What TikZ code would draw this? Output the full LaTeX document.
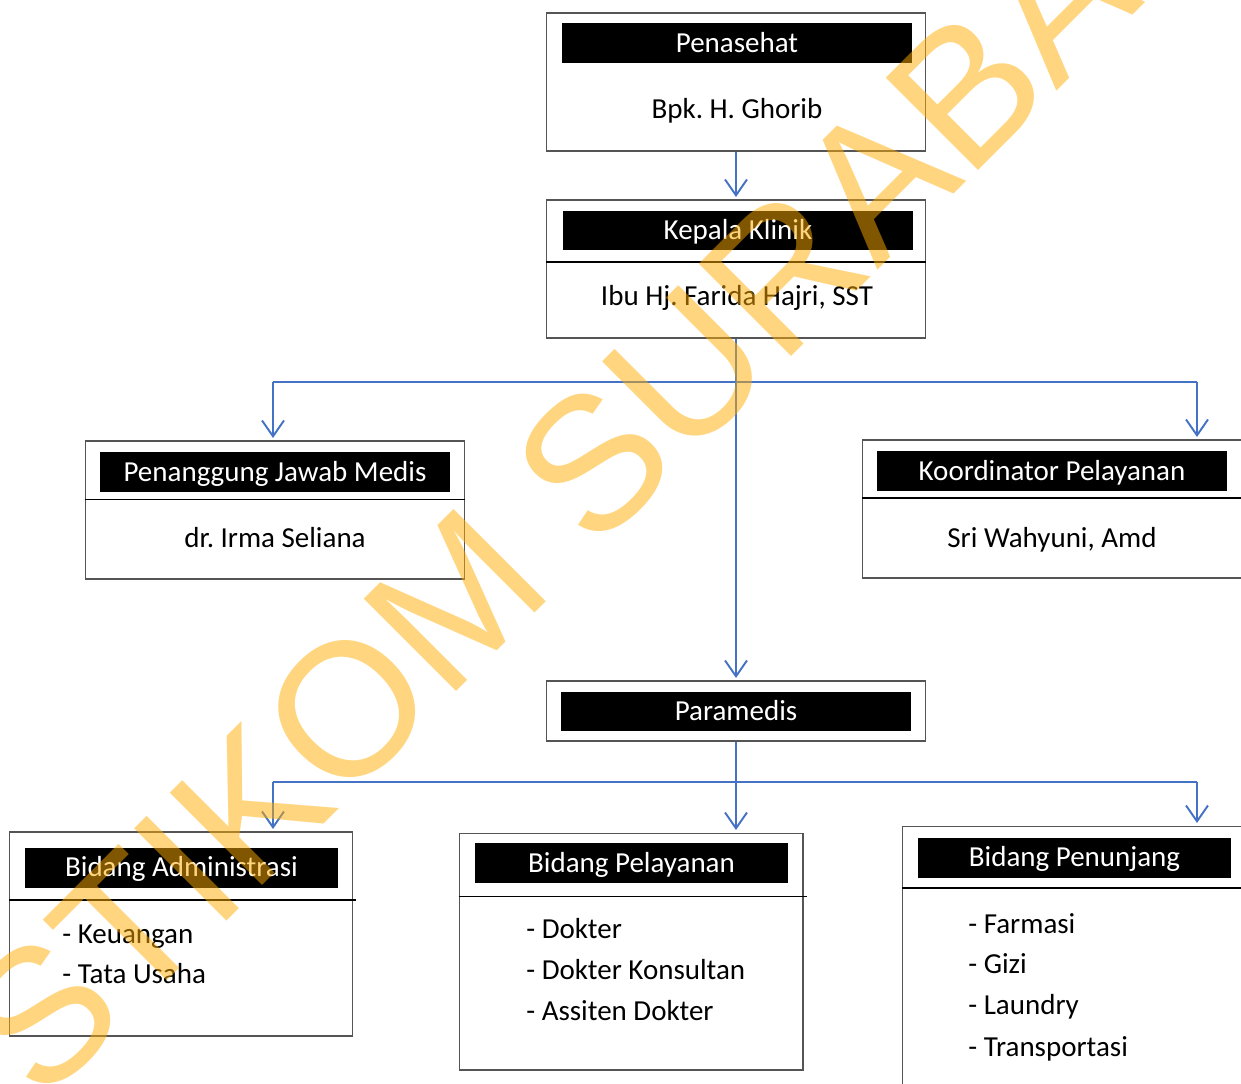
\documentclass[tikz,border=0pt]{standalone}
\usepackage{fontspec}
\setmainfont{Carlito}
\newfontfamily\markfont{Liberation Sans}
\usetikzlibrary{arrows.meta}
\frenchspacing

\definecolor{linkblue}{RGB}{68,114,196}
\definecolor{framegray}{RGB}{85,85,85}
\definecolor{markorange}{RGB}{255,172,0}

\tikzset{
  boxframe/.style={draw=framegray, line width=0.6pt, inner sep=0pt},
  header/.style={fill=black, text=white, inner sep=0pt, minimum height=0.8cm,
    text height=10.6pt, text depth=0pt, font=\fontsize{16.5}{20}\selectfont},
  wide/.style={minimum width=7cm},
  narrow/.style={minimum width=6.26cm},
  person/.style={anchor=base, inner sep=0pt, font=\fontsize{16.5}{20}\selectfont},
  item/.style={anchor=base west, inner sep=0pt, font=\fontsize{16.5}{20}\selectfont},
  divider/.style={draw=black, line width=1.1pt},
  bluerule/.style={draw=linkblue, line width=1.1pt},
  link/.style={bluerule, -{Straight Barb[length=9pt,width=12.5pt]}, shorten >=0.05cm},
  watermark/.style={rotate=45, inner sep=0pt, text=markorange, text opacity=0.5,
    font=\markfont\fontsize{108}{108}\selectfont}
}

\begin{document}
\begin{tikzpicture}[x=0.02cm, y=-0.02cm]
\clip (0,0) rectangle (1241,1084);

% frames
\node[boxframe, minimum width=7.6cm, minimum height=2.76cm] (penasehat) at (736,82) {};
\node[boxframe, minimum width=7.6cm, minimum height=2.76cm] (kepala) at (736,269) {};
\node[boxframe, minimum width=7.6cm, minimum height=2.76cm] (pjm) at (275,510) {};
\node[boxframe, minimum width=7.6cm, minimum height=2.76cm] (koord) at (1052,509) {};
\node[boxframe, minimum width=7.6cm, minimum height=1.2cm] (paramedis) at (736,711) {};
\node[boxframe, minimum width=6.88cm, minimum height=4.08cm] (admin) at (181,934) {};
\node[boxframe, minimum width=6.88cm, minimum height=4.74cm] (pelayanan) at (631,951.5) {};
\node[boxframe, minimum width=6.88cm, minimum height=5.4cm] (penunjang) at (1074,961) {};

% headers
\node[header, wide] (penasehatH) at (737,43) {Penasehat};
\node[header, wide] (kepalaH) at (738,230.5) {Kepala Klinik};
\node[header, wide] (pjmH) at (275,472) {Penanggung Jawab Medis};
\node[header, wide] (koordH) at (1052,471) {Koordinator Pelayanan};
\node[header, wide] (paramedisH) at (736,711.5) {Paramedis};
\node[header, narrow] (adminH) at (181.5,867.5) {Bidang Administrasi};
\node[header, narrow] (pelayananH) at (631.5,863) {Bidang Pelayanan};
\node[header, narrow] (penunjangH) at (1074.5,857.5) {Bidang Penunjang};

% dividers
\draw[divider] (kepala.west |- 0,262) -- (kepala.east |- 0,262);
\draw[divider] (pjm.west |- 0,499.5) -- (pjm.east |- 0,499.5);
\draw[divider] (koord.west |- 0,498) -- (koord.east |- 0,498);
\draw[divider] (admin.west |- 0,900) -- ([xshift=0.06cm]admin.east |- 0,900);
\draw[divider] (pelayanan.west |- 0,896.5) -- ([xshift=0.06cm]pelayanan.east |- 0,896.5);
\draw[divider] (penunjang.west |- 0,888) -- (penunjang.east |- 0,888);

% names
\node[person] (ghorib) at (737,119) {Bpk. H. Ghorib};
\node[person] (farida) at (737,306) {Ibu Hj. Farida Hajri, SST};
\node[person] (irma) at (275,547) {dr. Irma Seliana};
\node[person] (sri) at (1052,547) {Sri Wahyuni, Amd};

% items
\node[item] (adm1) at (62,943) {- Keuangan};
\node[item] (adm2) at (62,983) {- Tata Usaha};
\node[item] (pel1) at (526,938) {- Dokter};
\node[item] (pel2) at (526,979) {- Dokter Konsultan};
\node[item] (pel3) at (526,1020) {- Assiten Dokter};
\node[item] (pen1) at (968,933) {- Farmasi};
\node[item] (pen2) at (968,973) {- Gizi};
\node[item] (pen3) at (968,1014) {- Laundry};
\node[item] (pen4) at (968,1056) {- Transportasi};

% connectors
\coordinate (topL) at (273,382);
\coordinate (topR) at (1197,382);
\coordinate (lowL) at (273,782);
\coordinate (lowR) at (1197,782);

\draw[link] (penasehat.south) -- (penasehat.south |- kepala.north);
\draw[link] (kepala.south) -- (paramedis.north);
\draw[bluerule] (topL) -- (topR);
\draw[link] (topL) -- (topL |- pjm.north);
\draw[link] (topR) -- (topR |- koord.north);
\draw[link] (paramedis.south) -- (paramedis.south |- pelayanan.north);
\draw[bluerule] (lowL) -- (lowR);
\draw[link] (lowL) -- (lowL |- admin.north);
\draw[link] (lowR) -- (lowR |- penunjang.north);

% watermark
\node[watermark] (stikom) at (628,428) {STIKOM SURABAYA};
\end{tikzpicture}
\end{document}
